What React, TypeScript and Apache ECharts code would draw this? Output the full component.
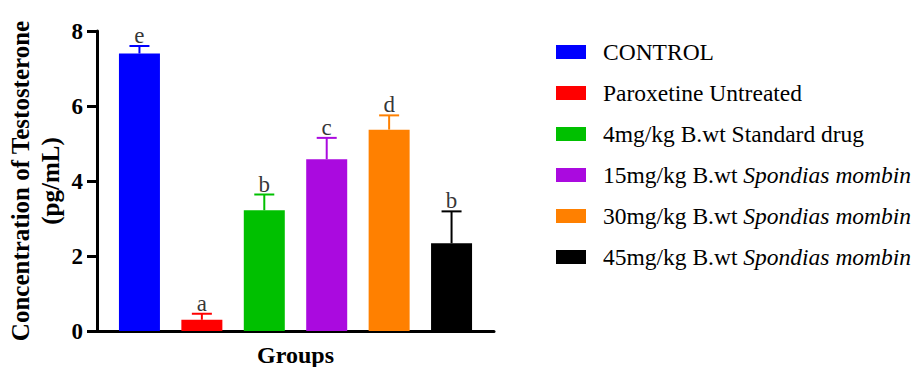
import React, { useEffect, useRef } from "react";
import * as echarts from "echarts";

const groups = [
  "CONTROL",
  "Paroxetine Untreated",
  "4mg/kg B.wt Standard drug",
  "15mg/kg B.wt Spondias mombin",
  "30mg/kg B.wt Spondias mombin",
  "45mg/kg B.wt Spondias mombin",
];
const means = [7.4, 0.3, 3.22, 4.58, 5.37, 2.34];
const errorTops = [7.6, 0.46, 3.64, 5.15, 5.75, 3.19];
const letters = ["e", "a", "b", "c", "d", "b"];
const colors = ["#0000FF", "#FF0000", "#00C000", "#AA0ADF", "#FF8000", "#000000"];
const yTicks = { min: 0, max: 8, interval: 2 };

const SERIF = '"Liberation Serif"';

export default function App() {
  const ref = useRef<HTMLDivElement>(null);
  useEffect(() => {
    if (!ref.current) return;
    const chart = echarts.init(ref.current, null, { renderer: "svg" });
    const barSeries = groups.map((g, i) => ({
      name: g,
      type: "bar",
      barWidth: 41,
      barGap: "-100%",
      data: [[i, means[i]]],
      itemStyle: { color: colors[i] },
      z: 2,
    }));
    const errData = groups.map((_, i) => [i, means[i], errorTops[i]]);
    const letterData = groups.map((_, i) => ({ value: [i, errorTops[i]], label: { formatter: letters[i] } }));
    chart.setOption({
      animation: false,
      grid: { left: 97, top: 31, right: 422, bottom: 36, containLabel: false, outerBoundsMode: "none" },
      xAxis: {
        type: "value",
        min: -0.68,
        max: 5.68,
        splitLine: { show: false },
        axisTick: { show: false },
        axisLabel: { show: false },
        axisLine: { show: true, onZero: false, lineStyle: { color: "#000", width: 3 } },
        name: "Groups",
        nameLocation: "middle",
        nameGap: 12,
        nameTextStyle: { fontFamily: SERIF, fontWeight: "bold", fontSize: 24, color: "#000" },
      },
      yAxis: {
        type: "value",
        min: yTicks.min,
        max: yTicks.max,
        interval: yTicks.interval,
        splitLine: { show: false },
        axisLine: { show: true, onZero: false, lineStyle: { color: "#000", width: 3 } },
        axisTick: { show: true, length: 10, lineStyle: { color: "#000", width: 3 } },
        axisLabel: { fontFamily: SERIF, fontWeight: "bold", fontSize: 23, color: "#000", margin: 14 },
        name: "Concentration of Testosterone\n(pg/mL)",
        nameLocation: "middle",
        nameRotate: 90,
        nameGap: 32,
        nameTextStyle: { fontFamily: SERIF, fontWeight: "bold", fontSize: 25, color: "#000", lineHeight: 30 },
      },
      legend: {
        data: groups,
        orient: "vertical",
        left: 551,
        top: 35,
        itemWidth: 30,
        itemHeight: 14,
        itemGap: 17,
        icon: "rect",
        textStyle: {
          fontFamily: SERIF,
          fontSize: 23.5,
          lineHeight: 20,
          color: "#000",
          padding: [0, 0, 0, 12],
          rich: { i: { fontFamily: SERIF, fontSize: 23.5, lineHeight: 20, fontStyle: "italic", color: "#000" } },
        },
        formatter: (name: string) => name.replace("Spondias mombin", "{i|Spondias mombin}"),
      },
      series: [
        ...barSeries,
        {
          type: "custom",
          z: 3,
          clip: false,
          data: errData,
          encode: { x: 0, y: [1, 2] },
          renderItem: (params: any, api: any) => {
            const idx = params.dataIndex;
            const x = api.value(0);
            const p0 = api.coord([x, api.value(1)]);
            const p1 = api.coord([x, api.value(2)]);
            const c = colors[idx];
            return {
              type: "group",
              children: [
                { type: "line", shape: { x1: p0[0], y1: p0[1], x2: p1[0], y2: p1[1] }, style: { stroke: c, lineWidth: 2 } },
                { type: "line", shape: { x1: p1[0] - 10, y1: p1[1], x2: p1[0] + 10, y2: p1[1] }, style: { stroke: c, lineWidth: 2 } },
              ],
            };
          },
        },
        {
          type: "scatter",
          symbolSize: 0,
          z: 4,
          silent: true,
          data: letterData,
          label: {
            show: true,
            position: "top",
            distance: 0,
            offset: [0, 1],
            fontFamily: SERIF,
            fontSize: 23,
            color: "#000",
          },
        },
      ],
    });
    return () => chart.dispose();
  }, []);
  return <div ref={ref} style={{ position: "absolute", left: 0, top: 0, width: 916, height: 367, background: "#fff" }} />;
}
